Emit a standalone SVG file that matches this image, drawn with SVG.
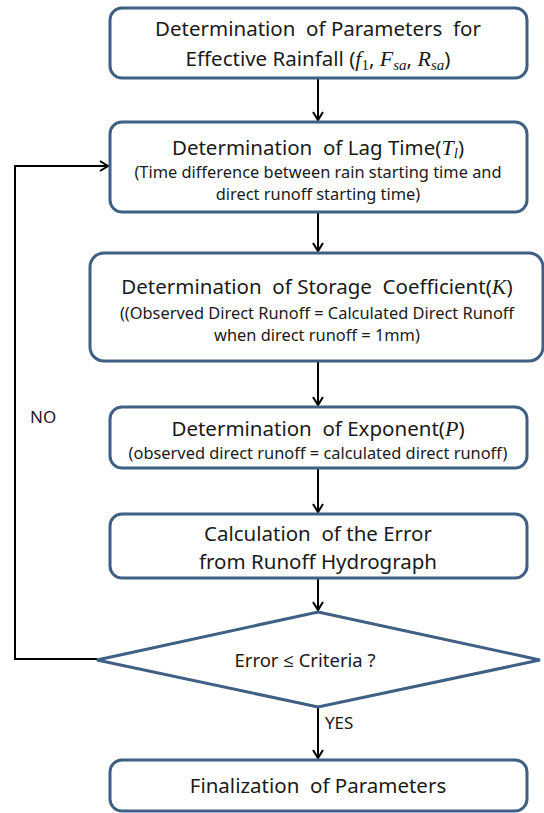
<svg xmlns="http://www.w3.org/2000/svg" width="544" height="813" viewBox="0 0 544 813">
<style>
.box{fill:#fff;stroke:#3f5f85;stroke-width:3}
.t{font-family:"Noto Sans","Open Sans",sans-serif;font-size:20.5px;fill:#1a1a1a;text-anchor:middle;white-space:pre}
.s{font-family:"Noto Sans","Open Sans",sans-serif;font-size:16.4px;fill:#1a1a1a;text-anchor:middle}
.m{font-family:"Liberation Serif",serif;font-style:italic;font-size:22px}
.sub{font-family:"Liberation Serif",serif;font-style:italic;font-size:15px}
.c{fill:none;stroke:#000;stroke-width:2}
.l{font-family:"Noto Sans","Open Sans",sans-serif;font-size:17px;fill:#1a1a1a}
</style>
<defs>
<marker id="ah" markerWidth="12" markerHeight="12" refX="10" refY="6" orient="auto" markerUnits="userSpaceOnUse">
<path d="M2,1 L10,6 L2,11" fill="none" stroke="#000" stroke-width="2"/>
</marker>
</defs>
<rect width="544" height="813" fill="#fff"/>
<g id="connectors">
<line class="c" x1="318" y1="79" x2="318" y2="120" marker-end="url(#ah)"/>
<line class="c" x1="318" y1="213" x2="318" y2="251" marker-end="url(#ah)"/>
<line class="c" x1="318" y1="362" x2="318" y2="405" marker-end="url(#ah)"/>
<line class="c" x1="318" y1="469" x2="318" y2="512" marker-end="url(#ah)"/>
<line class="c" x1="318" y1="579" x2="318" y2="610" marker-end="url(#ah)"/>
<line class="c" x1="318" y1="708" x2="318" y2="758" marker-end="url(#ah)"/>
<polyline class="c" points="97,659 15,659 15,166 108,166" marker-end="url(#ah)"/>
<text class="l" x="30" y="423">NO</text>
<text class="l" x="325" y="729">YES</text>
</g>
<g id="n1">
<rect class="box" x="110" y="8" width="417" height="70" rx="12"/>
<text class="t" x="318" y="36">Determination  of Parameters  for</text>
<text class="t" x="318" y="66">Effective Rainfall (<tspan class="m">f</tspan><tspan class="sub" style="font-style:normal" dy="4">1</tspan><tspan dy="-4">, </tspan><tspan class="m">F</tspan><tspan class="sub" dy="4">sa</tspan><tspan dy="-4">, </tspan><tspan class="m">R</tspan><tspan class="sub" dy="4">sa</tspan><tspan dy="-4">)</tspan></text>
</g>
<g id="n2">
<rect class="box" x="110" y="122" width="417" height="90" rx="12"/>
<text class="t" x="318" y="155">Determination  of Lag Time(<tspan class="m">T</tspan><tspan class="sub" dy="3">l</tspan><tspan dy="-3">)</tspan></text>
<text class="s" x="318" y="178">(Time difference between rain starting time and</text>
<text class="s" x="318" y="200">direct runoff starting time)</text>
</g>
<g id="n3">
<rect class="box" x="90" y="253" width="453" height="108" rx="14"/>
<text class="t" x="317" y="294">Determination  of Storage  Coefficient(<tspan class="m">K</tspan>)</text>
<text class="s" x="317" y="319">((Observed Direct Runoff = Calculated Direct Runoff</text>
<text class="s" x="317" y="341">when direct runoff = 1mm)</text>
</g>
<g id="n4">
<rect class="box" x="110" y="407" width="417" height="61" rx="12"/>
<text class="t" x="318" y="436">Determination  of Exponent(<tspan class="m">P</tspan>)</text>
<text class="s" x="318" y="459">(observed direct runoff = calculated direct runoff)</text>
</g>
<g id="n5">
<rect class="box" x="110" y="514" width="417" height="64" rx="12"/>
<text class="t" x="318" y="541">Calculation  of the Error</text>
<text class="t" x="318" y="569">from Runoff Hydrograph</text>
</g>
<g id="n6">
<polygon class="box" points="318,612 540,660 318,707 97,660"/>
<text class="s" x="305" y="667" style="font-size:18.5px">Error ≤ Criteria ?</text>
</g>
<g id="n7">
<rect class="box" x="110" y="760" width="417" height="51" rx="12"/>
<text class="t" x="318" y="793">Finalization  of Parameters</text>
</g>
</svg>
